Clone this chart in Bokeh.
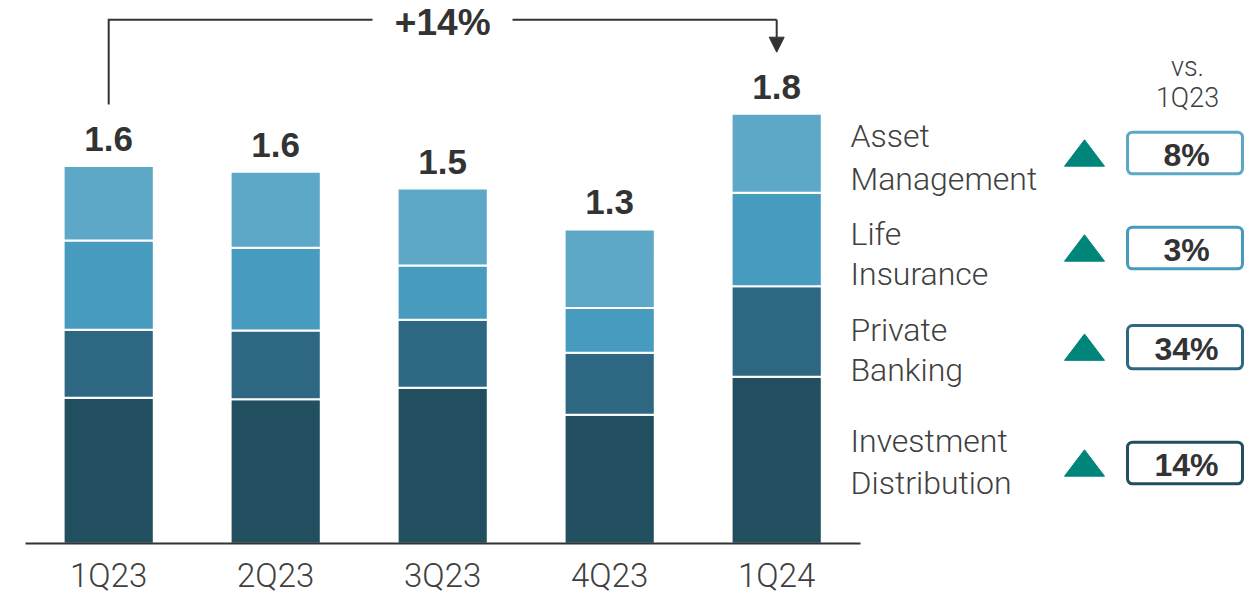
from bokeh.plotting import figure
from bokeh.models import ColumnDataSource, Range1d, FixedTicker, Arrow, NormalHead
from bokeh.core.properties import value
from bokeh.embed import file_html
from bokeh.resources import INLINE

# ---------------- data ----------------
quarters = ["1Q23", "2Q23", "3Q23", "4Q23", "1Q24"]
investment_distribution = [0.611, 0.605, 0.653, 0.540, 0.699]
private_banking = [0.285, 0.288, 0.285, 0.260, 0.379]
life_insurance = [0.374, 0.346, 0.227, 0.187, 0.391]
asset_management = [0.311, 0.318, 0.322, 0.329, 0.331]
total_labels = ["1.6", "1.6", "1.5", "1.3", "1.8"]

segments = ["Investment Distribution", "Private Banking", "Life Insurance", "Asset Management"]
growth_vs_1q23 = ["14%", "34%", "3%", "8%"]
overall_change = "+14%"
header_lines = ["vs.", "1Q23"]

colors = ["#224F60", "#2E6782", "#469BBE", "#5EA8C7"]

# ---------------- layout helpers (canvas pixel -> data) ----------------
W, H = 1257, 595
SLOT = 167.0
XC1 = 108.2      # canvas x of first bar centre
BASE = 543.3     # canvas y of the baseline
PPU = 238.9      # pixels per unit


def X(cx):
    return 1 + (cx - XC1) / SLOT


def Y(cy):
    return (BASE - cy) / PPU


p = figure(width=W, height=H, x_range=Range1d(X(0), X(W)), y_range=Range1d(Y(H), Y(0)),
           output_backend="svg", toolbar_location=None, min_border=0,
           y_axis_location=None, title=None)
p.outline_line_color = None
p.grid.visible = False
p.background_fill_color = "white"
p.border_fill_color = "white"

xpos = list(range(1, len(quarters) + 1))
src = ColumnDataSource(dict(x=xpos, id=investment_distribution, pb=private_banking,
                            li=life_insurance, am=asset_management))
p.vbar_stack(["id", "pb", "li", "am"], x="x", width=0.54, fill_color=colors,
             line_color="white", line_width=2, source=src)

# x axis
ax = p.xaxis[0]
ax.fixed_location = 0
ax.ticker = FixedTicker(ticks=xpos)
ax.major_label_overrides = {i: q for i, q in zip(xpos, quarters)}
ax.bounds = (0.5, 5.5)
ax.axis_line_color = "#333333"
ax.axis_line_width = 2
ax.major_tick_line_color = None
ax.minor_tick_line_color = None
ax.major_label_text_font = "Roboto Light"
ax.major_label_text_font_size = "33px"
ax.major_label_text_color = "#404040"
ax.major_label_standoff = 6

# totals, centred ~27px above each stack
totals = [a + b + c + d for a, b, c, d in zip(investment_distribution, private_banking,
                                              life_insurance, asset_management)]
p.text(x=xpos, y=[t + 27.0 / PPU for t in totals], text=total_labels, text_align="center",
       text_baseline="middle", text_font=value("Liberation Sans"), text_font_style="bold",
       text_font_size="35px", text_color="#333333")

# bracket with +14%
yb = Y(19.3)
p.line(x=[1, 1, X(372)], y=[Y(104), yb, yb], line_color="#333333", line_width=2,
       line_join="miter")
p.line(x=[X(512), 5], y=[yb, yb], line_color="#333333", line_width=2, line_join="miter")
p.add_layout(Arrow(end=NormalHead(size=15, fill_color="#333333", line_color="#333333", line_width=1),
                   x_start=5, y_start=yb, x_end=5, y_end=Y(51.7),
                   line_color="#333333", line_width=2))
p.text(x=[3], y=[Y(22)], text=[overall_change], text_align="center", text_baseline="middle",
       text_font=value("Liberation Sans"), text_font_style="bold", text_font_size="37px",
       text_color="#333333")

# right-hand legend: order ID, PB, LI, AM
legend_centres = [(440.5, 482.6), (329.0, 369.0), (233.0, 273.0), (135.5, 178.0)]
box_tb = [(441.7, 483.3), (325.0, 368.3), (226.7, 268.3), (131.7, 173.3)]
lx, ly, ltext = [], [], []
for seg, (c1, c2) in zip(segments, legend_centres):
    w1, w2 = seg.split(" ", 1)
    lx += [X(850), X(850)]
    ly += [Y(c1), Y(c2)]
    ltext += [w1, w2]
p.text(x=lx, y=ly, text=ltext, text_align="left", text_baseline="middle",
       text_font=value("Roboto Light"), text_font_size="32px", text_color="#404040")

# triangles
txs, tys = [], []
for (t, b) in box_tb:
    mid = (t + b) / 2
    top, bot = mid - 13.2, mid + 13.2
    txs.append([X(1064), X(1104), X(1084)])
    tys.append([Y(bot), Y(bot), Y(top)])
p.patches(xs=txs, ys=tys, fill_color="#00857A", line_color="#00857A", line_width=1)

# boxes
p.quad(left=[X(1127)] * 4, right=[X(1242)] * 4,
       top=[Y(t) for t, b in box_tb], bottom=[Y(b) for t, b in box_tb],
       fill_color="white", line_color=colors, line_width=3, border_radius=5)
p.text(x=[X(1186)] * 4, y=[Y((t + b) / 2 + 1.5) for t, b in box_tb], text=growth_vs_1q23,
       text_align="center", text_baseline="middle", text_font=value("Liberation Sans"),
       text_font_style="bold", text_font_size="32px", text_color="#333333")

# header
p.text(x=[X(1187), X(1187)], y=[Y(66), Y(97.5)], text=header_lines, text_align="center",
       text_baseline="middle", text_font=value("Roboto Light"), text_font_size="27px",
       text_color="#404040")

open("out.html", "w").write(file_html(p, INLINE))
